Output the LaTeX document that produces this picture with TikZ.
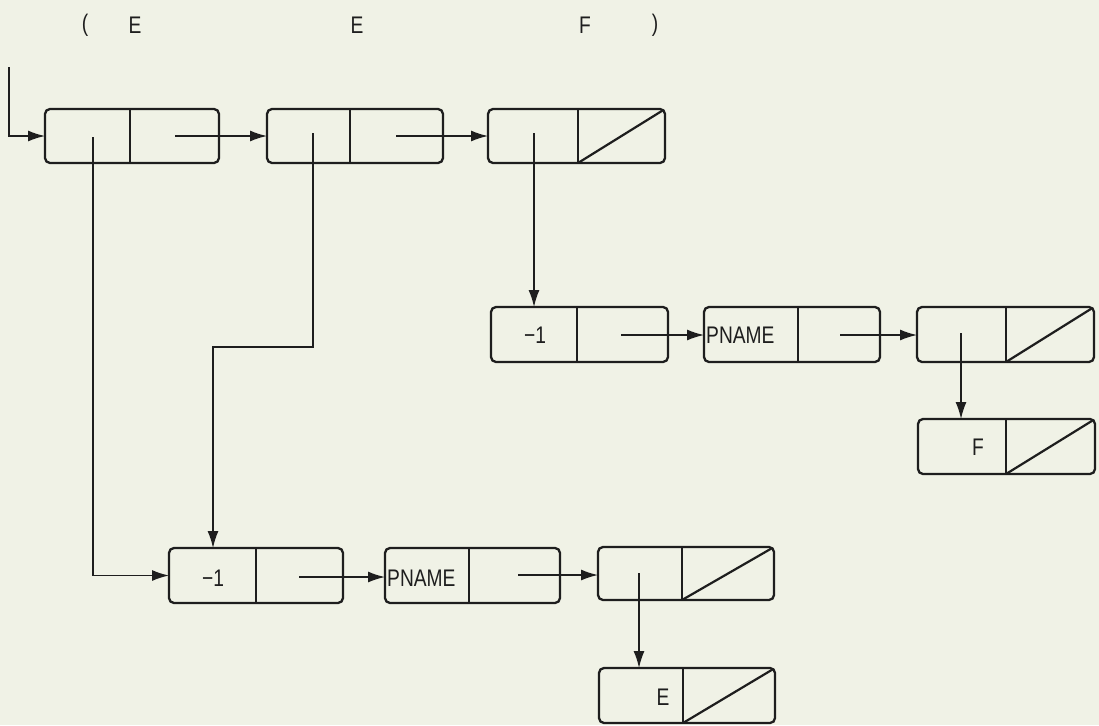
\documentclass[tikz,border=0pt]{standalone}
\usepackage{fontspec}
\setmainfont{Liberation Sans}[FakeStretch=0.8]
\usetikzlibrary{arrows.meta}
\definecolor{bg}{RGB}{240,242,230}
\definecolor{ink}{RGB}{30,30,30}
\newcommand{\consbox}[6]{% name, left, top, divider, right, bottom
  \node[cellbox, anchor=north west, minimum width={#5-#2}, minimum height={#6-#3}] (#1) at (#2,#3) {};
  \coordinate (#1-d) at (#4,#3);
  \draw[cellline] (#1-d) -- (#1-d |- #1.south);
}
\newcommand{\nilcell}[1]{\draw[cellline, shorten >=2pt] (#1-d |- #1.south) -- (#1.north east);}
\begin{document}
\begin{tikzpicture}[x=1pt, y=-1pt,
  cellbox/.style={draw=ink, line width=2.3pt, rounded corners=5pt, inner sep=0pt, outer sep=0pt},
  cellline/.style={draw=ink, line width=2.2pt},
  ptr/.style={draw=ink, line width=1.5pt, -{Latex[length=17pt,width=11pt]}},
  lbl/.style={text=ink, font=\fontsize{24}{26}\selectfont, inner sep=0pt}]
\path[fill=bg] (0,0) rectangle (1099,725);

% header text
\node[lbl] (p1) at (85,25) {(};
\node[lbl] (h1) at (135,25) {E};
\node[lbl] (h2) at (357,25) {E};
\node[lbl] (h3) at (585,25) {F};
\node[lbl] (p2) at (655,25) {)};

% top row
\consbox{t1}{45}{109}{130}{219}{163}
\consbox{t2}{267}{109}{350}{443}{163}
\consbox{t3}{488}{109}{578}{665}{163}
\nilcell{t3}
\coordinate (t1-car) at (93,137);
\coordinate (t1-cdr) at (175,136);
\coordinate (t2-car) at (313,133);
\coordinate (t2-cdr) at (396,136);
\coordinate (t3-car) at (534,133);

% middle row
\consbox{m1}{491}{307}{577}{668}{362}
\consbox{m2}{704}{307}{798}{880}{362}
\consbox{m3}{917}{307}{1006}{1094}{362}
\nilcell{m3}
\consbox{f}{918}{419}{1006}{1095}{474}
\nilcell{f}
\node[lbl] (m1t) at (535,335) {−1};
\node[lbl, anchor=west] (m2t) at (706,335) {PNAME};
\node[lbl] (ft) at (978,447) {F};
\coordinate (m1-cdr) at (621,335);
\coordinate (m2-cdr) at (840,335);
\coordinate (m3-car) at (961,333);

% bottom row
\consbox{b1}{169}{548}{256}{343}{603}
\consbox{b2}{385}{548}{469}{560}{603}
\consbox{b3}{598}{547}{682}{774}{600}
\nilcell{b3}
\consbox{e}{599}{668}{683}{775}{723}
\nilcell{e}
\node[lbl] (b1t) at (213,578) {−1};
\node[lbl, anchor=west] (b2t) at (387,578) {PNAME};
\node[lbl] (et) at (663,697) {E};
\coordinate (b1-cdr) at (299,577);
\coordinate (b2-cdr) at (518,575);
\coordinate (b3-car) at (639,573);

% connectors
\coordinate (start) at (9,67);
\coordinate (bend) at (213,347);
\draw[ptr] (start) |- (t1.west);
\draw[ptr] (t1-cdr) -- (t1-cdr -| t2.west);
\draw[ptr] (t2-cdr) -- (t2-cdr -| t3.west);
\draw[ptr] (t3-car) -- (t3-car |- m1.north);
\draw[ptr] (t1-car) |- (b1.west);
\draw[ptr] (t2-car) |- (bend) -- (bend |- b1.north);
\draw[ptr] (m1-cdr) -- (m1-cdr -| m2.west);
\draw[ptr] (m2-cdr) -- (m2-cdr -| m3.west);
\draw[ptr] (m3-car) -- (m3-car |- f.north);
\draw[ptr] (b1-cdr) -- (b1-cdr -| b2.west);
\draw[ptr] (b2-cdr) -- (b2-cdr -| b3.west);
\draw[ptr] (b3-car) -- (b3-car |- e.north);
\end{tikzpicture}
\end{document}
